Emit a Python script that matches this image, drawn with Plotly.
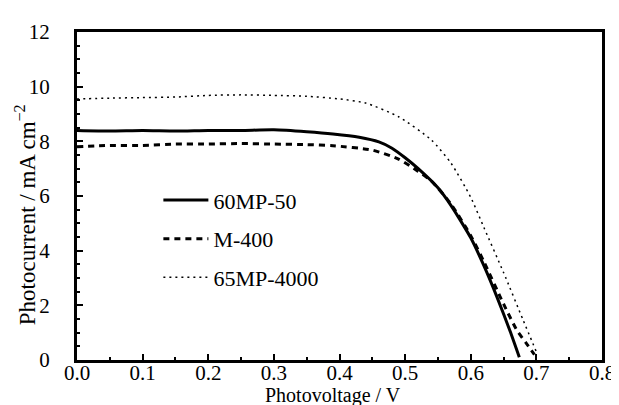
import plotly.graph_objects as go

names = ["60MP-50", "M-400", "65MP-4000"]

v_60mp = [0, 0.05, 0.1, 0.15, 0.2, 0.25, 0.3, 0.35, 0.39, 0.43, 0.46, 0.48, 0.5, 0.52, 0.55, 0.57, 0.59, 0.6, 0.62, 0.64, 0.66, 0.674]
j_60mp = [8.4, 8.38, 8.4, 8.38, 8.4, 8.4, 8.42, 8.35, 8.27, 8.15, 7.98, 7.75, 7.4, 7.0, 6.3, 5.65, 4.88, 4.47, 3.45, 2.3, 1.05, 0.1]

v_m400 = [0, 0.05, 0.1, 0.15, 0.2, 0.25, 0.3, 0.35, 0.39, 0.45, 0.49, 0.52, 0.54, 0.57, 0.6, 0.62, 0.65, 0.67, 0.685, 0.697]
j_m400 = [7.8, 7.85, 7.85, 7.9, 7.9, 7.92, 7.9, 7.88, 7.84, 7.68, 7.35, 6.9, 6.55, 5.7, 4.55, 3.6, 2.05, 1.1, 0.6, 0.2]

v_65mp = [0, 0.05, 0.1, 0.15, 0.2, 0.25, 0.3, 0.35, 0.4, 0.44, 0.49, 0.54, 0.57, 0.6, 0.62, 0.65, 0.68, 0.7]
j_65mp = [9.55, 9.58, 9.6, 9.62, 9.68, 9.7, 9.68, 9.65, 9.55, 9.4, 8.9, 8.05, 7.2, 5.95, 4.85, 3.2, 1.45, 0.3]

x_ticks = [0, 0.1, 0.2, 0.3, 0.4, 0.5, 0.6, 0.7, 0.8]
x_labels = ["0.0", "0.1", "0.2", "0.3", "0.4", "0.5", "0.6", "0.7", "0.8"]
y_ticks = [0, 2, 4, 6, 8, 10, 12]
x_title = "Photovoltage / V"
y_title = "Photocurrent / mA cm<sup>−2</sup>"

FONT = "Liberation Serif"

fig = go.Figure()
fig.add_trace(go.Scatter(x=v_60mp, y=j_60mp, name=names[0], mode="lines", legendgroup="a",
                         line=dict(color="black", width=3, dash="solid", shape="spline", smoothing=0.6)))
fig.add_trace(go.Scatter(x=v_m400, y=j_m400, name=names[1], mode="lines", legendgroup="b",
                         line=dict(color="black", width=3, dash="6px,5px", shape="spline", smoothing=0.6)))
fig.add_trace(go.Scatter(x=v_65mp, y=j_65mp, name=names[2], mode="lines", legendgroup="c",
                         line=dict(color="black", width=1.5, dash="2px,4px", shape="spline", smoothing=0.6)))

axis_common = dict(showline=True, linecolor="black", linewidth=3, mirror=True,
                   ticks="inside", tickcolor="black", tickwidth=2, ticklen=6,
                   showgrid=False, zeroline=False,
                   minor=dict(ticks="inside", ticklen=3, tickwidth=1.5, tickcolor="black"),
                   tickfont=dict(family=FONT, size=21, color="black"))

fig.update_layout(
    width=619, height=405,
    margin=dict(l=69, r=12, t=20, b=53),
    paper_bgcolor="white", plot_bgcolor="white",
    font=dict(family=FONT, color="black"),
    showlegend=True,
    legend=dict(x=0.155, y=0.551, xanchor="left", yanchor="top",
                traceorder="grouped", tracegroupgap=7, itemwidth=45,
                bgcolor="rgba(0,0,0,0)",
                font=dict(family=FONT, size=22, color="black")),
    xaxis=dict(range=[0, 0.8], tickvals=x_ticks, ticktext=x_labels,
               ticklabelstandoff=-8, **axis_common),
    yaxis=dict(range=[0, 12], tickvals=y_ticks, ticklabelstandoff=20,
               **axis_common),
    annotations=[
        dict(text=x_title, xref="paper", yref="paper", x=0.487, y=-0.108,
             xanchor="center", yanchor="middle", showarrow=False,
             font=dict(family=FONT, size=20, color="black")),
        dict(text=y_title, xref="paper", yref="paper", x=-0.098, y=0.443,
             xanchor="center", yanchor="middle", showarrow=False, textangle=-90,
             font=dict(family=FONT, size=23, color="black")),
    ],
)

fig.write_html("out.html")
